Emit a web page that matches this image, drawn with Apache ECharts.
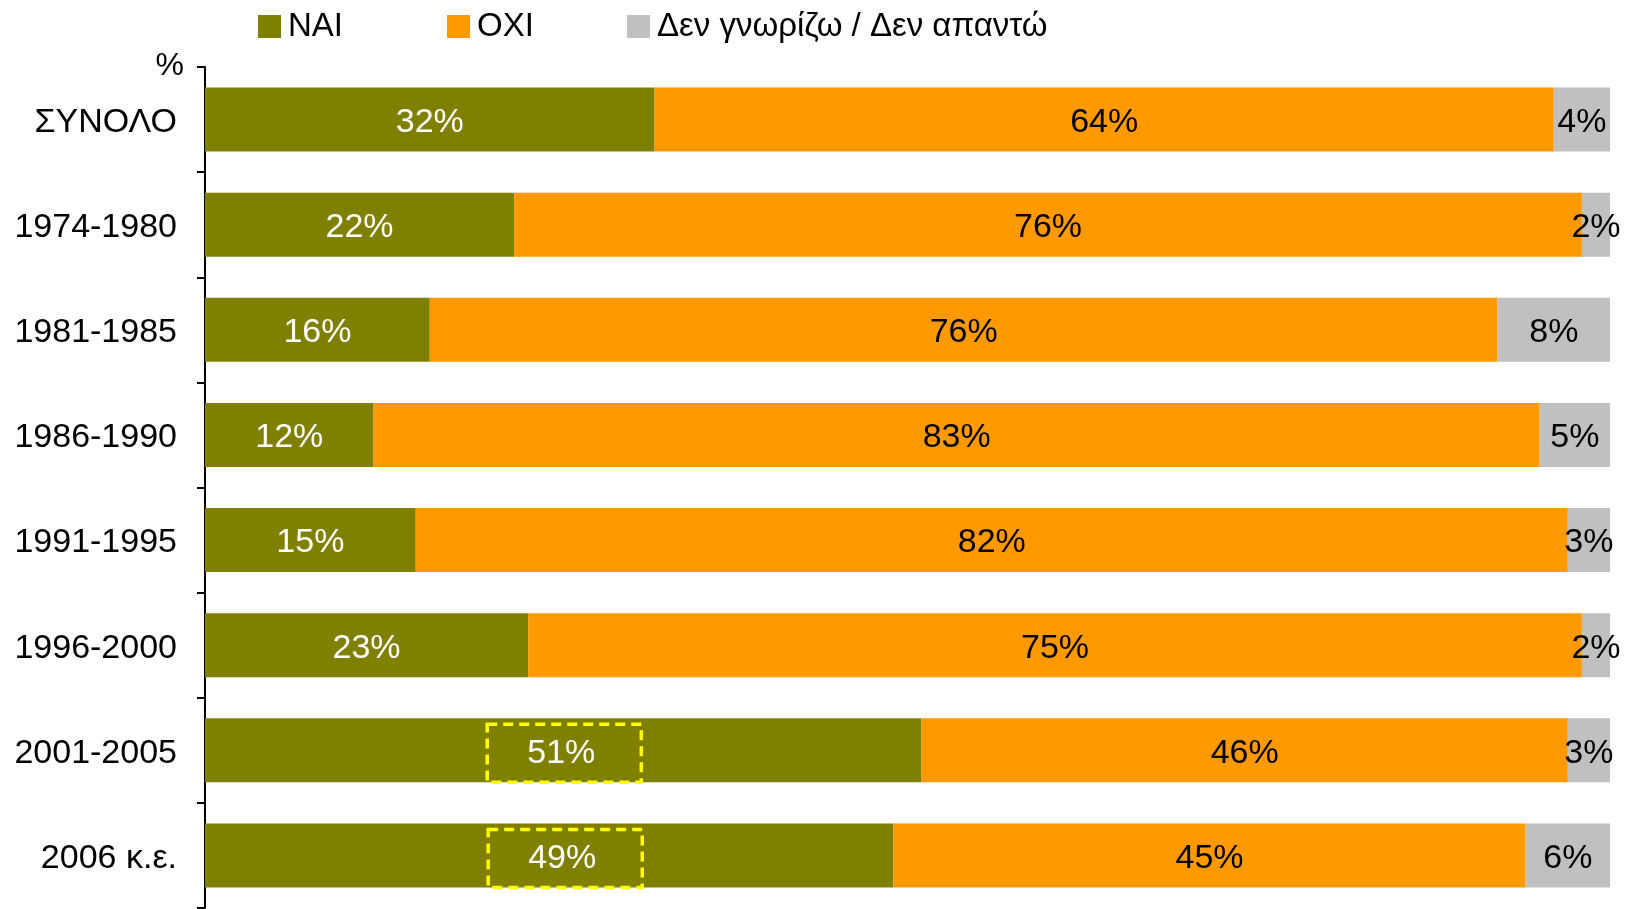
<!DOCTYPE html>
<html>
<head>
<meta charset="utf-8">
<script src="https://cdn.jsdelivr.net/npm/echarts@6/dist/echarts.min.js"></script>
<style>
  html, body { margin: 0; padding: 0; background: #fff; }
  #myChart { width: 1630px; height: 909px; }
</style>
</head>
<body>
<div id="myChart"></div>
<script>
const categories = ['ΣΥΝΟΛΟ', '1974-1980', '1981-1985', '1986-1990', '1991-1995', '1996-2000', '2001-2005', '2006 κ.ε.']
const naiValues = [32, 22, 16, 12, 15, 23, 51, 49]
const oxiValues = [64, 76, 76, 83, 82, 75, 46, 45]
const dkValues = [4, 2, 8, 5, 3, 2, 3, 6]
const highlighted = ['2001-2005', '2006 κ.ε.']
const legendData = ['ΝΑΙ', 'ΟΧΙ', 'Δεν γνωρίζω / Δεν απαντώ']
const color = ['#808000', '#FF9900', '#C0C0C0']

const font = 'Liberation Sans, Arial, sans-serif'
// small label nudges so the dashed boxes sit where they do in the original
const boxNudge = { '2001-2005': [1, 3], '2006 κ.ε.': [16, 3] }

let naiData = naiValues.map((v, i) => {
    if (highlighted.indexOf(categories[i]) < 0) return v
    return {
        value: v,
        label: {
            borderColor: '#FFFF00',
            borderWidth: 3.5,
            borderType: [10, 6],
            padding: [12, 46, 12, 40],
            offset: boxNudge[categories[i]]
        }
    }
})

function makeSeries(name, data, labelColor) {
    return {
        name: name,
        type: 'bar',
        stack: 'total',
        barWidth: 64,
        data: data,
        label: {
            show: true,
            position: 'inside',
            offset: [0, 3],
            color: labelColor,
            fontFamily: font,
            fontSize: 34,
            formatter: '{c}%'
        }
    }
}

let myChart = echarts.init(document.getElementById('myChart'))
let legendStyle = { fontFamily: font, fontSize: 33, color: '#000', padding: [0, 0, 0, 2] }
let legendBase = { top: 5, itemWidth: 23, itemHeight: 23, itemGap: 0, textStyle: legendStyle, icon: 'rect' }
let option = {
    color: color,
    animation: false,
    legend: [
        Object.assign({ data: [legendData[0]], left: 253 }, legendBase),
        Object.assign({ data: [legendData[1]], left: 442 }, legendBase),
        Object.assign({ data: [legendData[2]], left: 622 }, legendBase)
    ],
    grid: {
        left: 205,
        right: 20,
        top: 67,
        bottom: 1,
        containLabel: false
    },
    xAxis: {
        type: 'value',
        min: 0,
        max: 100,
        show: false
    },
    yAxis: {
        type: 'category',
        inverse: true,
        data: categories,
        name: '%',
        nameLocation: 'start',
        nameGap: 1,
        nameTextStyle: {
            fontFamily: font,
            fontSize: 32,
            color: '#000',
            align: 'right',
            verticalAlign: 'middle',
            padding: [0, 21, 0, 0]
        },
        axisLine: { lineStyle: { color: '#000', width: 2 } },
        axisTick: { show: true, length: 8, lineStyle: { color: '#000', width: 2 } },
        axisLabel: {
            margin: 28,
            color: '#000',
            fontFamily: font,
            fontSize: 34,
            formatter: '{v|{value}}',
            rich: {
                v: { fontFamily: font, fontSize: 34, color: '#000', padding: [6, 0, 0, 0] }
            }
        }
    },
    series: [
        makeSeries(legendData[0], naiData, '#fff'),
        makeSeries(legendData[1], oxiValues, '#000'),
        makeSeries(legendData[2], dkValues, '#000')
    ]
}
myChart.setOption(option)
</script>
</body>
</html>
